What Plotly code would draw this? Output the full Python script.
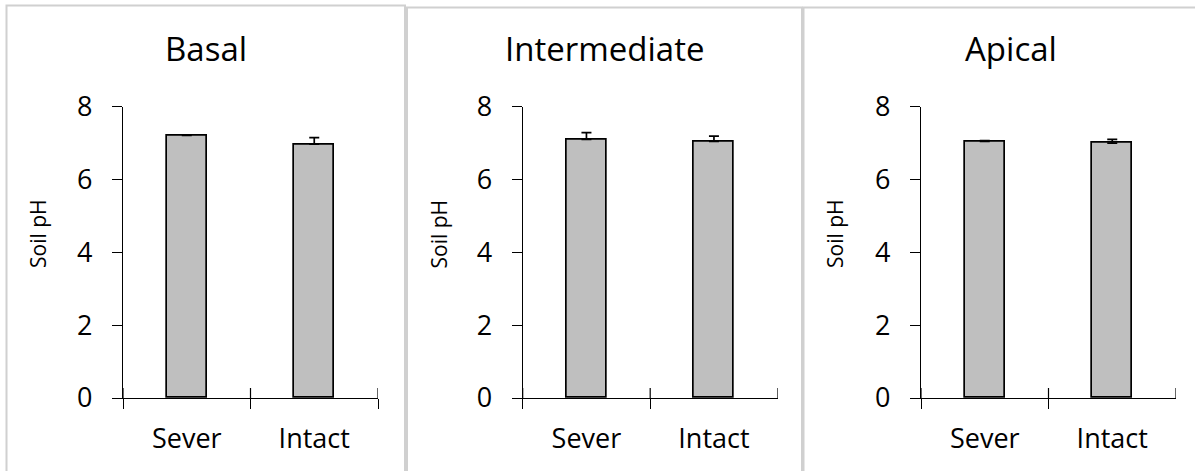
import plotly.graph_objects as go

# Soil pH by canopy position and treatment (mean ± SE)
positions = ["Basal", "Intermediate", "Apical"]
treatments = ["Sever", "Intact"]
ph_basal = [7.21, 6.97]
ph_intermediate = [7.10, 7.05]
ph_apical = [7.05, 7.00]
se_basal = [0.02, 0.18]
se_intermediate = [0.19, 0.14]
se_apical = [0.02, 0.10]
y_ticks = [0, 2, 4, 6, 8]

W, H = 1195, 471
FONT = "Open Sans"


def px(x):
    return x / W


def py(y):
    return 1 - y / H


means = [ph_basal, ph_intermediate, ph_apical]
errors = [se_basal, se_intermediate, se_apical]

# panel frames (left, right, top) in pixels and left edge of each plot area
frames = [(6.5, 405, 5.5), (407, 802, 7.5), (803.5, 1230, 7.5)]
axis_left = [123, 522.7, 921]
axis_w = 255
y_zero, y_top = 398, 106.7
TICK = 10

# category boundaries (x index) where the axis ticks cross the baseline
n_cat = len(treatments)
boundaries = [k - 0.5 for k in range(n_cat + 1)]

fig = go.Figure()
shapes = []
annotations = []

for i, (name, m, e) in enumerate(zip(positions, means, errors)):
    n = i + 1
    xa = "x" if n == 1 else f"x{n}"
    ya = "y" if n == 1 else f"y{n}"
    dom_x = [px(axis_left[i]), px(axis_left[i] + axis_w)]
    dom_y = [py(y_zero), py(y_top)]

    fig.add_trace(go.Bar(
        x=treatments, y=m, width=0.31,
        marker=dict(color="#bfbfbf", line=dict(color="black", width=1.7)),
        error_y=dict(type="data", symmetric=False, array=e, arrayminus=[0] * len(e),
                     color="black", thickness=1.7, width=5),
        xaxis=xa, yaxis=ya, showlegend=False, hoverinfo="skip",
    ))
    fig.update_layout(**{
        f"xaxis{n if n > 1 else ''}": dict(
            domain=dom_x, anchor=ya, type="category", range=[-0.5, n_cat - 0.5],
            tickson="boundaries", ticks="outside", ticklen=TICK, tickwidth=1.2,
            tickcolor="black", showline=True, linecolor="black", linewidth=1.2,
            showgrid=False, zeroline=False, ticklabelstandoff=16, automargin=False,
            tickfont=dict(family=FONT, size=27, color="black"),
        ),
        f"yaxis{n if n > 1 else ''}": dict(
            domain=dom_y, anchor=xa, range=[0, 8], tickvals=y_ticks,
            ticks="outside", ticklen=TICK, tickwidth=1.2, tickcolor="black",
            showline=True, linecolor="black", linewidth=1.2, automargin=False,
            showgrid=False, zeroline=False, ticklabelstandoff=14,
            tickfont=dict(family=FONT, size=27, color="black"),
        ),
    })

    # upper half of the crossing category ticks
    for b in boundaries:
        shapes.append(dict(type="line", xref=xa, yref=ya, x0=b, x1=b,
                           ysizemode="pixel", yanchor=0, y0=0, y1=TICK,
                           line=dict(color="black", width=1.2)))

    l, r, t = frames[i]
    shapes.append(dict(type="rect", xref="paper", yref="paper",
                       x0=px(l), x1=px(r), y0=-0.2, y1=py(t),
                       line=dict(color="#d0d0d0", width=2), layer="below"))
    annotations.append(dict(text=name, xref="paper", yref="paper",
                            x=px((l + min(r, 1218)) / 2), y=py(49),
                            xanchor="center", yanchor="middle", showarrow=False,
                            font=dict(family=FONT, size=33, color="black")))
    annotations.append(dict(text="Soil pH", xref="paper", yref="paper",
                            x=px(l + 31.5), y=py(234), textangle=-90,
                            xanchor="center", yanchor="middle", showarrow=False,
                            font=dict(family=FONT, size=21, color="black")))

fig.update_layout(
    template="none",
    width=W, height=H, margin=dict(l=0, r=0, t=0, b=0, autoexpand=False),
    paper_bgcolor="white", plot_bgcolor="rgba(0,0,0,0)",
    shapes=shapes, annotations=annotations, bargap=0,
)

fig.write_html("out.html")
